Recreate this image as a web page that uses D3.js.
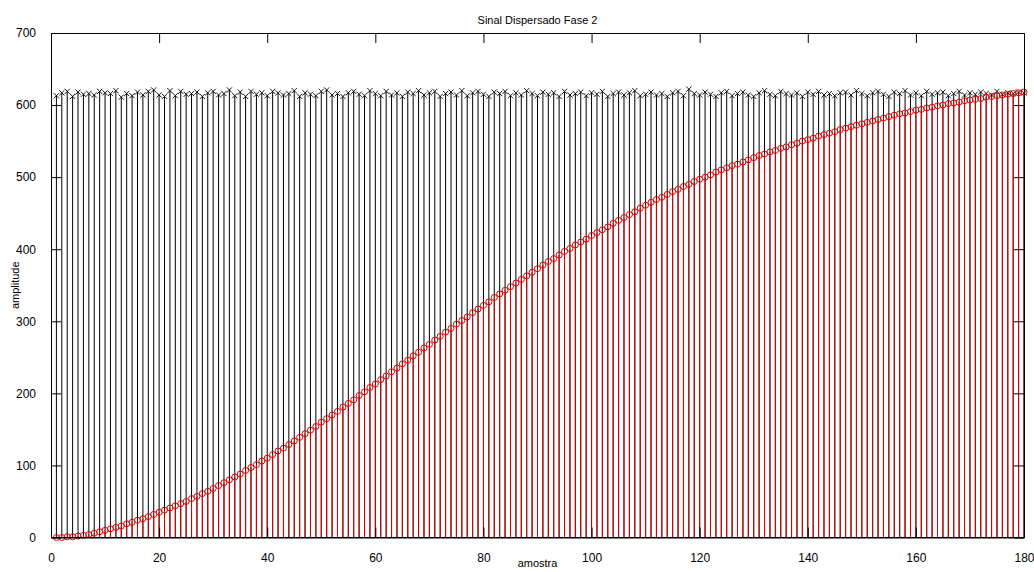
<!DOCTYPE html>
<html>
<head>
<meta charset="utf-8">
<script src="https://cdn.jsdelivr.net/npm/d3@7"></script>
<style>
  body { margin: 0; background: #fff; }
  text { font-family: "Liberation Sans", Arial, sans-serif; font-size: 11px; fill: #000; }
  .axis path, .axis line { stroke: #000; }
</style>
</head>
<body>
<svg width="1034" height="572"></svg>
<script>
// amostra 1..180
const xTicks = [0, 20, 40, 60, 80, 100, 120, 140, 160, 180];
const yTicks = [0, 100, 200, 300, 400, 500, 600, 700];

// black stems (x markers)
const sinal = [
  613, 617, 619, 612, 618, 615, 616, 614, 619, 617,
  616, 620, 611, 616, 613, 618, 614, 619, 621, 614,
  612, 620, 613, 619, 615, 616, 618, 612, 617, 619,
  614, 616, 621, 613, 618, 612, 619, 615, 617, 613,
  619, 617, 614, 616, 620, 612, 617, 615, 613, 619,
  621, 614, 616, 612, 617, 619, 615, 613, 620, 616,
  613, 619, 614, 617, 612, 618, 616, 620, 614, 617,
  619, 612, 616, 618, 614, 620, 613, 617, 619, 615,
  612, 618, 616, 619, 613, 617, 614, 620, 616, 613,
  618, 615, 617, 612, 619, 614, 616, 618, 613, 617,
  615, 619, 612, 616, 618, 614, 617, 620, 613, 615,
  618, 614, 616, 612, 617, 619, 613, 622, 616, 614,
  618, 615, 612, 617, 619, 613, 616, 618, 614, 612,
  617, 620, 615, 613, 619, 616, 614, 617, 612, 618,
  615, 619, 614, 616, 613, 617, 618, 614, 620, 616,
  613, 617, 619, 615, 612, 618, 616, 620, 614, 617,
  613, 619, 615, 617, 618, 613, 616, 619, 614, 617,
  615, 618, 616, 614, 619, 615, 617, 616, 618, 617
];

// red stems (o markers)
const disperso = [
  0, 0, 1, 1, 2, 3, 4, 6, 8, 10,
  12, 14, 16, 19, 21, 24, 26, 29, 32, 35,
  38, 41, 44, 47, 50, 54, 57, 61, 64, 68,
  72, 76, 80, 84, 88, 93, 97, 101, 106, 110,
  115, 120, 124, 129, 134, 139, 144, 149, 154, 160,
  165, 170, 175, 181, 186, 191, 197, 202, 208, 213,
  219, 224, 230, 235, 241, 246, 252, 257, 263, 268,
  274, 279, 285, 290, 296, 301, 306, 312, 317, 322,
  327, 333, 338, 343, 348, 353, 358, 363, 368, 373,
  378, 383, 387, 392, 397, 401, 406, 410, 414, 419,
  423, 427, 431, 436, 440, 444, 448, 452, 457, 461,
  465, 469, 472, 476, 480, 483, 487, 490, 494, 497,
  500, 503, 507, 510, 513, 516, 518, 521, 524, 527,
  530, 532, 535, 537, 540, 542, 545, 547, 550, 552,
  554, 557, 559, 561, 563, 566, 568, 570, 572, 574,
  576, 578, 580, 582, 584, 586, 588, 589, 591, 593,
  594, 596, 597, 599, 600, 602, 603, 604, 606, 607,
  608, 609, 611, 612, 613, 614, 615, 616, 617, 618
];

var svg = d3.select("svg");

const mLeft = 51, mRight = 1024, mTop = 33, mBottom = 537.5;
const tickLen = 10;

var x = d3.scaleLinear().domain([0, 180]).range([mLeft, mRight]);
var y = d3.scaleLinear().domain([0, 700]).range([mBottom, mTop]);

const black = sinal.map((v, i) => ({ n: i + 1, v: v }));
const red = disperso.map((v, i) => ({ n: i + 1, v: v }));

// black stems
svg.append("g")
  .selectAll("line")
  .data(black)
  .join("line")
  .attr("x1", d => x(d.n)).attr("x2", d => x(d.n))
  .attr("y1", y(0)).attr("y2", d => y(d.v))
  .attr("stroke", "#000")
  .attr("stroke-width", 1);

// x markers
svg.append("g")
  .selectAll("path")
  .data(black)
  .join("path")
  .attr("d", d => {
    const cx = x(d.n), cy = y(d.v), s = 2.6;
    return `M${cx - s},${cy - s}L${cx + s},${cy + s}M${cx - s},${cy + s}L${cx + s},${cy - s}`;
  })
  .attr("stroke", "#000")
  .attr("stroke-width", 0.9)
  .attr("fill", "none");

// red stems
svg.append("g")
  .selectAll("line")
  .data(red)
  .join("line")
  .attr("x1", d => x(d.n)).attr("x2", d => x(d.n))
  .attr("y1", y(0)).attr("y2", d => y(d.v))
  .attr("stroke", "#e00000")
  .attr("stroke-width", 1);

// o markers
svg.append("g")
  .selectAll("circle")
  .data(red)
  .join("circle")
  .attr("cx", d => x(d.n))
  .attr("cy", d => y(d.v))
  .attr("r", 3)
  .attr("fill", "none")
  .attr("stroke", "#e00000")
  .attr("stroke-width", 1);

// baseline
svg.append("line")
  .attr("x1", x(0)).attr("x2", x(180))
  .attr("y1", y(0)).attr("y2", y(0))
  .attr("stroke", "#000");

// axes box with inward ticks
var gB = svg.append("g").attr("class", "axis")
  .attr("transform", `translate(0,${mBottom})`)
  .call(d3.axisBottom(x).tickValues(xTicks).tickSize(-tickLen).tickPadding(tickLen + 6).tickSizeOuter(0));
var gT = svg.append("g").attr("class", "axis")
  .attr("transform", `translate(0,${mTop})`)
  .call(d3.axisTop(x).tickValues(xTicks).tickSize(-tickLen).tickFormat("").tickSizeOuter(0));
var gL = svg.append("g").attr("class", "axis")
  .attr("transform", `translate(${mLeft},0)`)
  .call(d3.axisLeft(y).tickValues(yTicks).tickSize(-tickLen).tickPadding(tickLen + 5).tickSizeOuter(0));
var gR = svg.append("g").attr("class", "axis")
  .attr("transform", `translate(${mRight},0)`)
  .call(d3.axisRight(y).tickValues(yTicks).tickSize(-tickLen).tickFormat("").tickSizeOuter(0));

svg.selectAll(".axis text").style("font-family", "\"Liberation Sans\", Arial, sans-serif").style("font-size", "12px");

// title and labels
svg.append("text")
  .attr("x", (mLeft + mRight) / 2).attr("y", 24)
  .attr("text-anchor", "middle")
  .text("Sinal Dispersado Fase 2");

svg.append("text")
  .attr("x", (mLeft + mRight) / 2).attr("y", 567)
  .attr("text-anchor", "middle")
  .text("amostra");

svg.append("text")
  .attr("transform", `translate(19,${(mTop + mBottom) / 2}) rotate(-90)`)
  .attr("text-anchor", "middle")
  .text("amplitude");
</script>
</body>
</html>
